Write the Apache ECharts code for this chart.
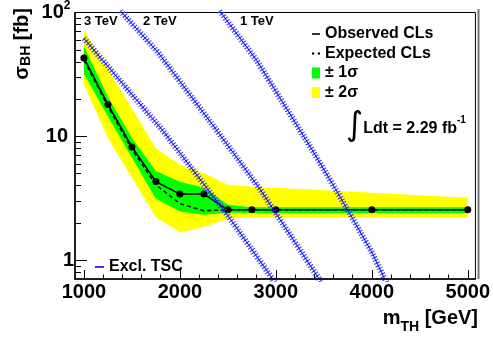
<!DOCTYPE html>
<html><head><meta charset="utf-8">
<script src="https://cdn.jsdelivr.net/npm/echarts@6/dist/echarts.min.js"></script>
<style>html,body{margin:0;padding:0;background:#fff}#c{width:493px;height:339px}</style>
</head><body><div id="c"></div>
<script>
// ---- data ----
const massPoints = [1000, 1250, 1500, 1750, 2000, 2250, 2500, 2750, 3000, 4000, 5000];
const observedCLs = [42.9, 18.1, 8.21, 4.31, 3.42, 3.42, 2.55, 2.55, 2.55, 2.55, 2.55];
const expectedCLs = [41.3, 17.4, 7.87, 4.06, 2.86, 2.51, 2.55, 2.55, 2.55, 2.55, 2.55];
const oneSigmaUp = [53.5, 20.9, 9.69, 5.25, 4.29, 3.84, 2.81, 2.68, 2.68, 2.68, 2.68];
const oneSigmaDown = [31.9, 14.45, 6.71, 3.13, 2.47, 2.33, 2.42, 2.40, 2.40, 2.40, 2.40];
const twoSigmaUp = [71.8, 35.0, 16.75, 8.02, 5.86, 5.06, 4.06, 3.91, 3.84, 3.50, 3.19];
const twoSigmaDown = [26.1, 9.69, 4.64, 2.22, 1.68, 1.85, 2.16, 2.21, 2.21, 2.21, 2.21];

const tsc3Mass = [1000, 1829, 2513, 2962, 2990];
const tsc3Sigma = [61.8, 10.96, 2.22, 0.714, 0.665];
const tsc2Mass = [1380, 1770, 2392, 2830, 3470];
const tsc2Sigma = [103, 47.9, 10.96, 3.80, 0.67];
const tsc1Mass = [2415, 2800, 3376, 3642, 3998, 4160];
const tsc1Sigma = [103, 41.1, 7.83, 3.53, 1.17, 0.643];

const xTicks = [1000, 2000, 3000, 4000, 5000];
const xMinorTicks = [1200, 1400, 1600, 1800, 2200, 2400, 2600, 2800, 3200, 3400, 3600, 3800, 4200, 4400, 4600, 4800];
const yMinorTicks = [0.8, 0.9, 2, 3, 4, 5, 6, 7, 8, 9, 20, 30, 40, 50, 60, 70, 80, 90];
const X_MIN = 907, X_MAX = 5080, Y_MIN = 0.705, Y_MAX = 100;

const FONT = '"Liberation Sans", Arial, Helvetica, sans-serif';
const pairs = (xs, ys) => xs.map((x, i) => [x, ys[i]]);

function bandSeries(name, color, up, down) {
  return {
    type: 'custom', name, coordinateSystem: 'cartesian2d', xAxisIndex: 0, yAxisIndex: 0,
    itemStyle: { color }, silent: true,
    data: [[massPoints[0], up[0]]], encode: { x: 0, y: 1 },
    renderItem: (params, api) => {
      const pts = [];
      for (let i = 0; i < massPoints.length; i++) pts.push(api.coord([massPoints[i], up[i]]));
      for (let i = massPoints.length - 1; i >= 0; i--) pts.push(api.coord([massPoints[i], down[i]]));
      return { type: 'polygon', shape: { points: pts }, style: { fill: color } };
    }
  };
}
function tscSeries(xs, ys) {
  return [
    { type: 'line', name: 'hatch', data: pairs(xs, ys), showSymbol: false, silent: true, z: 4,
      lineStyle: { color: '#3030ff', width: 6, type: [1.2, 1.8], opacity: 0.9 } },
    { type: 'line', name: 'Excl. TSC', data: pairs(xs, ys), showSymbol: false, silent: true, z: 4,
      itemStyle: { color: '#0000ff' }, lineStyle: { color: '#0000ff', width: 1 } }
  ];
}

const chart = echarts.init(document.getElementById('c'), null, { renderer: 'canvas' });
chart.setOption({
  animation: false,
  backgroundColor: '#fff',
  grid: { left: 75, top: 9, width: 403, height: 270, show: true, borderColor: '#000', borderWidth: 1, containLabel: false },
  xAxis: [
    { type: 'value', min: X_MIN, max: X_MAX, position: 'bottom', z: 5,
      axisLine: { show: true, onZero: false, lineStyle: { color: '#000', width: 1.5 } },
      axisTick: { show: true, inside: true, length: 9, customValues: xTicks, lineStyle: { color: '#000', width: 1 } },
      axisLabel: { customValues: xTicks, margin: 3, color: '#000', fontSize: 20, fontWeight: 'bold', fontFamily: FONT,
        formatter: v => String(Math.round(v)) },
      splitLine: { show: false } },
    { type: 'value', min: X_MIN, max: X_MAX, position: 'bottom', z: 5,
      axisLine: { show: false, onZero: false },
      axisTick: { show: true, inside: true, length: 4.5, customValues: xMinorTicks, lineStyle: { color: '#000', width: 1 } },
      axisLabel: { show: false }, splitLine: { show: false } }
  ],
  yAxis: [
    { type: 'log', logBase: 10, min: Y_MIN, max: Y_MAX, position: 'left', z: 5,
      axisLine: { show: true, onZero: false, lineStyle: { color: '#000', width: 1.5 } },
      axisTick: { show: true, inside: true, length: 12, lineStyle: { color: '#000', width: 1 } },
      axisLabel: {
        showMinLabel: false, showMaxLabel: true, margin: 1, color: '#000',
        formatter: v => { const e = Math.round(Math.log10(v)); return e === 0 ? '{one|1}' : e === 1 ? '{ten|10}' : '{hund|10}{sup|' + e + '}'; },
        rich: {
          one: { fontSize: 20, fontWeight: 'bold', fontFamily: FONT, color: '#000' },
          ten: { fontSize: 20, fontWeight: 'bold', fontFamily: FONT, color: '#000', padding: [0, 6, 0, 0] },
          hund: { fontSize: 20, fontWeight: 'bold', fontFamily: FONT, color: '#000' },
          sup: { fontSize: 12, fontWeight: 'bold', fontFamily: FONT, color: '#000', padding: [0, 3.5, 13, 0] }
        }
      },
      splitLine: { show: false }, minorTick: { show: false } },
    { type: 'value', min: Math.log10(Y_MIN), max: Math.log10(Y_MAX), position: 'left', z: 5,
      axisLine: { show: false, onZero: false },
      axisTick: { show: true, inside: true, length: 6, customValues: yMinorTicks.map(v => Math.log10(v)), lineStyle: { color: '#000', width: 1 } },
      axisLabel: { show: false }, splitLine: { show: false } }
  ],
  legend: [
    { orient: 'vertical', left: 307, top: 21, itemWidth: 8, itemHeight: 11, itemGap: 3.5, selectedMode: false,
      textStyle: { fontSize: 16, fontWeight: 'bold', fontFamily: FONT, color: '#000', lineHeight: 16 },
      data: [
        { name: 'Observed CLs', icon: 'path://M0,0H8V1.6H0Z' },
        { name: 'Expected CLs', icon: 'path://M0,0H2V1.6H0Z M5,0H7V1.6H5Z' },
        { name: '± 1σ', icon: 'rect' },
        { name: '± 2σ', icon: 'rect' }
      ] },
    { orient: 'vertical', left: 90, top: 254, itemWidth: 9, itemHeight: 11, selectedMode: false,
      textStyle: { fontSize: 16, fontWeight: 'bold', fontFamily: FONT, color: '#000', lineHeight: 16 },
      data: [{ name: 'Excl. TSC', icon: 'path://M0,0H9V1.6H0Z' }] }
  ],
  series: [
    bandSeries('± 2σ', '#ffff00', twoSigmaUp, twoSigmaDown),
    bandSeries('± 1σ', '#00ff00', oneSigmaUp, oneSigmaDown),
    { type: 'line', name: 'Expected CLs', data: pairs(massPoints, expectedCLs), showSymbol: false, z: 3,
      itemStyle: { color: '#000' }, lineStyle: { color: '#000', width: 1.5, type: [4, 3] } },
    { type: 'line', name: 'Observed CLs', data: pairs(massPoints, observedCLs), symbol: 'circle', symbolSize: 7, z: 3,
      itemStyle: { color: '#000' }, lineStyle: { color: '#000', width: 1.5 } },
    ...tscSeries(tsc3Mass, tsc3Sigma),
    ...tscSeries(tsc2Mass, tsc2Sigma),
    ...tscSeries(tsc1Mass, tsc1Sigma)
  ],
  graphic: [
    { type: 'text', x: 22, y: 8, rotation: Math.PI / 2, z: 10,
      style: { text: '{a|σ}{s|BH}{a| [fb]}', align: 'right', verticalAlign: 'middle', fill: '#000',
        rich: { a: { fontSize: 20, fontWeight: 'bold', fontFamily: FONT, fill: '#000' },
                s: { fontSize: 14, fontWeight: 'bold', fontFamily: FONT, fill: '#000', padding: [9, 0, 0, 0] } } } },
    { type: 'text', x: 478, y: 318, z: 10,
      style: { text: '{a|m}{s|TH}{a| [GeV]}', align: 'right', verticalAlign: 'middle', fill: '#000',
        rich: { a: { fontSize: 20, fontWeight: 'bold', fontFamily: FONT, fill: '#000' },
                s: { fontSize: 14, fontWeight: 'bold', fontFamily: FONT, fill: '#000', padding: [19, 0, 0, 0] } } } },
    { type: 'text', x: 84, y: 21.5, z: 10, style: { text: '3 TeV', align: 'left', verticalAlign: 'middle', fill: '#000', font: 'bold 13px ' + FONT } },
    { type: 'text', x: 143, y: 21.5, z: 10, style: { text: '2 TeV', align: 'left', verticalAlign: 'middle', fill: '#000', font: 'bold 13px ' + FONT } },
    { type: 'text', x: 240, y: 21.5, z: 10, style: { text: '1 TeV', align: 'left', verticalAlign: 'middle', fill: '#000', font: 'bold 13px ' + FONT } },
    { type: 'text', x: 346, y: 129, z: 10,
      style: { text: '{i|∫}{t|Ldt = 2.29 fb}{u|-1}', align: 'left', verticalAlign: 'middle', fill: '#000',
        rich: { i: { fontSize: 33, fontFamily: '"DejaVu Sans", sans-serif', fill: '#000', padding: [0, 0, 5, 0] },
                t: { fontSize: 16, fontWeight: 'bold', fontFamily: FONT, fill: '#000' },
                u: { fontSize: 10, fontWeight: 'bold', fontFamily: FONT, fill: '#000', padding: [0, 0, 18, 0] } } } },
    { type: 'line', z: 10, shape: { x1: 478.5, y1: 9, x2: 478.5, y2: 279 }, style: { stroke: '#777', lineWidth: 2 } }
  ]
});
</script></body></html>
